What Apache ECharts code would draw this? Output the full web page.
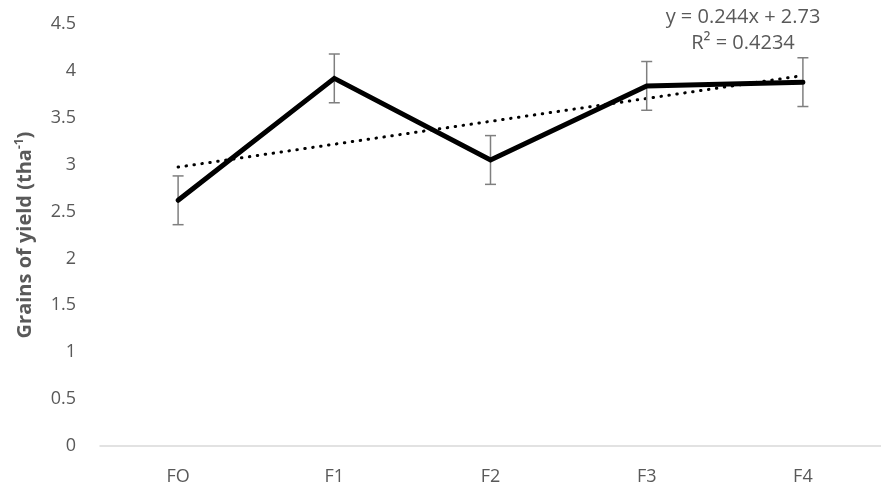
<!DOCTYPE html>
<html>
<head>
<meta charset="utf-8">
<script src="https://cdn.jsdelivr.net/npm/echarts@6/dist/echarts.min.js"></script>
<style>
  html, body { margin: 0; padding: 0; background: #fff; }
  #chart { width: 881px; height: 490px; }
</style>
</head>
<body>
<div id="chart"></div>
<script>
// Treatments and mean grain yield (t ha-1)
const categories = ['FO', 'F1', 'F2', 'F3', 'F4'];
const yieldValues = [2.62, 3.92, 3.05, 3.84, 3.88];
// Half-width of the error bars
const errorValues = [0.26, 0.26, 0.26, 0.26, 0.26];
// Linear trend shown in the equation label
const trendSlope = 0.244;
const trendIntercept = 2.73;
const trendR2 = 0.4234;
const yTicks = { min: 0, max: 4.5, interval: 0.5 };

const FONT = '"Open Sans", sans-serif';
const GREY = '#595959';

const trendValues = categories.map((c, i) => +(trendSlope * (i + 1) + trendIntercept).toFixed(4));
const errorData = yieldValues.map((v, i) => [i, v - errorValues[i], v + errorValues[i]]);

const chart = echarts.init(document.getElementById('chart'), null, { renderer: 'canvas' });
chart.setOption({
  animation: false,
  backgroundColor: '#fff',
  grid: { left: 100, right: -6, top: 24, bottom: 44, containLabel: false },
  xAxis: {
    type: 'category',
    data: categories,
    boundaryGap: true,
    axisLine: { show: true, lineStyle: { color: '#d9d9d9', width: 1.5 } },
    axisTick: { show: false },
    axisLabel: { color: GREY, fontFamily: FONT, fontSize: 18, margin: 22 },
    splitLine: { show: false }
  },
  yAxis: {
    type: 'value',
    min: yTicks.min,
    max: yTicks.max,
    interval: yTicks.interval,
    axisLine: { show: false },
    axisTick: { show: false },
    splitLine: { show: false },
    axisLabel: { color: GREY, fontFamily: FONT, fontSize: 18, margin: 24 },
    name: '{t|Grains of yield (tha}{s|-1}{t|)}',
    nameLocation: 'middle',
    nameGap: 64,
    nameRotate: 90,
    nameTextStyle: {
      rich: {
        t: { color: GREY, fontFamily: FONT, fontSize: 20, fontWeight: 'bold' },
        s: { color: GREY, fontFamily: FONT, fontSize: 12, fontWeight: 'bold', verticalAlign: 'top', padding: [0, 0, 10, 0] }
      }
    }
  },
  series: [
    {
      name: 'Trend',
      type: 'line',
      data: trendValues,
      symbol: 'none',
      z: 1,
      lineStyle: { color: '#000', width: 3, type: [0.5, 7.5], cap: 'round' }
    },
    {
      name: 'Error',
      type: 'custom',
      z: 2,
      data: errorData,
      renderItem: function (params, api) {
        const x = api.value(0);
        const lo = api.coord([x, api.value(1)]);
        const hi = api.coord([x, api.value(2)]);
        const hw = 5.5;
        const style = { stroke: '#7f7f7f', lineWidth: 1.5, fill: null };
        return {
          type: 'group',
          children: [
            { type: 'line', shape: { x1: lo[0], y1: lo[1], x2: hi[0], y2: hi[1] }, style },
            { type: 'line', shape: { x1: lo[0] - hw, y1: lo[1], x2: lo[0] + hw, y2: lo[1] }, style },
            { type: 'line', shape: { x1: hi[0] - hw, y1: hi[1], x2: hi[0] + hw, y2: hi[1] }, style }
          ]
        };
      }
    },
    {
      name: 'Yield',
      type: 'line',
      data: yieldValues,
      symbol: 'none',
      z: 3,
      lineStyle: { color: '#000', width: 5, cap: 'round', join: 'miter' }
    }
  ],
  graphic: [
    {
      type: 'text',
      x: 743,
      y: 4,
      style: {
        text: 'y = ' + trendSlope + 'x + ' + trendIntercept + '\nR\u00b2 = ' + trendR2,
        align: 'center',
        verticalAlign: 'top',
        fill: GREY,
        font: '20px ' + FONT,
        lineHeight: 26
      }
    }
  ]
});
</script>
</body>
</html>
